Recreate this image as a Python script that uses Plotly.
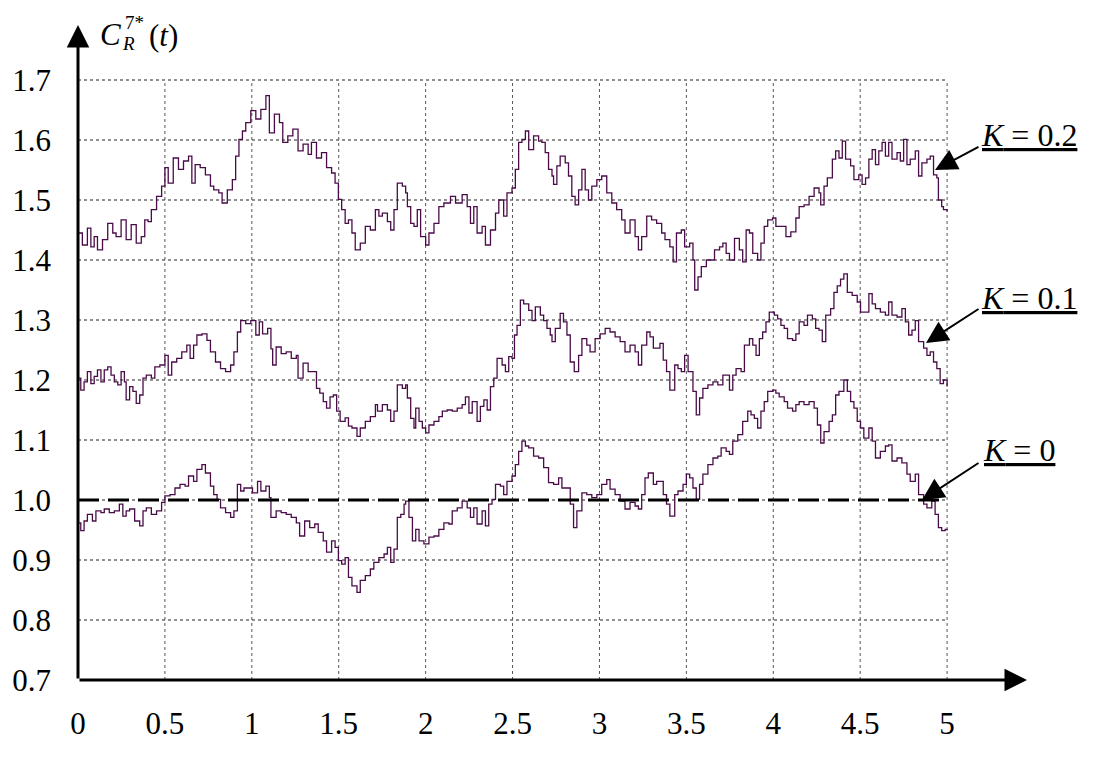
import plotly.graph_objects as go

# ---------------- data (t in units of 10^4) ----------------
# K = 0.2
t_k02 = [0.000, 0.025, 0.054, 0.074, 0.093, 0.112, 0.141, 0.171, 0.200, 0.219, 0.248, 0.277, 0.306, 0.335,
         0.364, 0.384, 0.403, 0.422, 0.452, 0.481, 0.500, 0.519, 0.548, 0.578, 0.607, 0.636, 0.655, 0.674,
         0.703, 0.733, 0.762, 0.781, 0.810, 0.829, 0.859, 0.888, 0.907, 0.926, 0.946, 0.965, 0.994, 1.023,
         1.052, 1.081, 1.101, 1.130, 1.159, 1.178, 1.207, 1.236, 1.266, 1.295, 1.324, 1.343, 1.372, 1.401,
         1.430, 1.459, 1.479, 1.498, 1.517, 1.537, 1.556, 1.576, 1.595, 1.624, 1.653, 1.682, 1.711, 1.731,
         1.751, 1.780, 1.799, 1.818, 1.837, 1.866, 1.885, 1.895, 1.914, 1.933, 1.952, 1.971, 2.000, 2.019,
         2.048, 2.076, 2.105, 2.143, 2.172, 2.210, 2.239, 2.258, 2.277, 2.296, 2.325, 2.344, 2.373, 2.402,
         2.421, 2.449, 2.468, 2.497, 2.516, 2.535, 2.554, 2.574, 2.593, 2.621, 2.650, 2.669, 2.688, 2.707,
         2.727, 2.736, 2.755, 2.774, 2.803, 2.822, 2.841, 2.860, 2.880, 2.899, 2.918, 2.937, 2.956, 2.985,
         3.013, 3.042, 3.071, 3.099, 3.128, 3.147, 3.176, 3.205, 3.224, 3.243, 3.272, 3.300, 3.329, 3.358,
         3.377, 3.405, 3.424, 3.443, 3.471, 3.490, 3.519, 3.538, 3.548, 3.567, 3.586, 3.615, 3.643, 3.662,
         3.691, 3.710, 3.729, 3.748, 3.777, 3.805, 3.824, 3.844, 3.863, 3.882, 3.910, 3.929, 3.948, 3.968,
         3.996, 4.015, 4.044, 4.073, 4.101, 4.130, 4.149, 4.177, 4.206, 4.235, 4.263, 4.273, 4.292, 4.311,
         4.340, 4.359, 4.378, 4.397, 4.416, 4.445, 4.464, 4.492, 4.511, 4.531, 4.550, 4.569, 4.588, 4.607,
         4.626, 4.645, 4.664, 4.683, 4.712, 4.731, 4.750, 4.769, 4.788, 4.817, 4.836, 4.855, 4.884, 4.903,
         4.922, 4.941, 4.950, 4.969, 4.979, 5.000]
c_k02 = [1.445, 1.425, 1.453, 1.422, 1.439, 1.417, 1.434, 1.461, 1.445, 1.439, 1.467, 1.434, 1.459, 1.428,
         1.439, 1.467, 1.464, 1.484, 1.506, 1.523, 1.554, 1.528, 1.570, 1.551, 1.565, 1.573, 1.528, 1.559,
         1.554, 1.542, 1.523, 1.517, 1.512, 1.495, 1.517, 1.534, 1.573, 1.601, 1.615, 1.629, 1.649, 1.635,
         1.651, 1.674, 1.612, 1.643, 1.629, 1.596, 1.607, 1.618, 1.582, 1.593, 1.576, 1.596, 1.570, 1.579,
         1.554, 1.545, 1.528, 1.501, 1.484, 1.461, 1.467, 1.445, 1.417, 1.428, 1.456, 1.450, 1.484, 1.473,
         1.478, 1.464, 1.450, 1.484, 1.528, 1.523, 1.512, 1.489, 1.461, 1.456, 1.484, 1.439, 1.425, 1.445,
         1.461, 1.489, 1.495, 1.506, 1.495, 1.509, 1.489, 1.461, 1.489, 1.445, 1.456, 1.425, 1.450, 1.478,
         1.500, 1.473, 1.512, 1.520, 1.551, 1.596, 1.601, 1.615, 1.584, 1.607, 1.598, 1.596, 1.579, 1.551,
         1.540, 1.526, 1.557, 1.573, 1.562, 1.540, 1.506, 1.492, 1.517, 1.551, 1.517, 1.500, 1.523, 1.534,
         1.540, 1.512, 1.495, 1.484, 1.467, 1.445, 1.467, 1.439, 1.417, 1.439, 1.473, 1.467, 1.461, 1.445,
         1.434, 1.422, 1.397, 1.445, 1.450, 1.422, 1.428, 1.400, 1.350, 1.372, 1.389, 1.400, 1.400, 1.417,
         1.422, 1.428, 1.411, 1.400, 1.436, 1.417, 1.397, 1.450, 1.445, 1.411, 1.400, 1.428, 1.456, 1.467,
         1.470, 1.456, 1.456, 1.439, 1.447, 1.470, 1.489, 1.492, 1.506, 1.520, 1.512, 1.492, 1.523, 1.537,
         1.568, 1.582, 1.570, 1.598, 1.568, 1.557, 1.534, 1.542, 1.526, 1.537, 1.568, 1.584, 1.559, 1.582,
         1.596, 1.573, 1.596, 1.568, 1.579, 1.565, 1.601, 1.559, 1.568, 1.582, 1.540, 1.562, 1.568, 1.573,
         1.542, 1.537, 1.500, 1.489, 1.484, 1.481]

# K = 0.1
t_k01 = [0.000, 0.016, 0.035, 0.054, 0.074, 0.093, 0.112, 0.132, 0.151, 0.171, 0.190, 0.209, 0.229, 0.248,
         0.267, 0.277, 0.297, 0.316, 0.335, 0.355, 0.374, 0.393, 0.422, 0.442, 0.471, 0.500, 0.519, 0.539,
         0.568, 0.597, 0.626, 0.645, 0.665, 0.684, 0.713, 0.742, 0.762, 0.791, 0.820, 0.849, 0.878, 0.897,
         0.917, 0.936, 0.965, 0.994, 1.023, 1.043, 1.062, 1.091, 1.110, 1.120, 1.140, 1.169, 1.198, 1.227,
         1.256, 1.266, 1.295, 1.324, 1.353, 1.372, 1.391, 1.411, 1.430, 1.450, 1.469, 1.488, 1.508, 1.537,
         1.556, 1.576, 1.605, 1.624, 1.653, 1.682, 1.711, 1.723, 1.751, 1.780, 1.799, 1.818, 1.837, 1.866,
         1.885, 1.895, 1.914, 1.933, 1.943, 1.962, 1.981, 2.000, 2.019, 2.048, 2.076, 2.096, 2.124, 2.153,
         2.182, 2.210, 2.229, 2.249, 2.268, 2.296, 2.315, 2.335, 2.354, 2.373, 2.392, 2.411, 2.440, 2.459,
         2.478, 2.497, 2.511, 2.526, 2.545, 2.564, 2.593, 2.612, 2.631, 2.660, 2.679, 2.698, 2.717, 2.727,
         2.746, 2.774, 2.793, 2.813, 2.832, 2.855, 2.880, 2.899, 2.927, 2.946, 2.975, 3.004, 3.033, 3.061,
         3.090, 3.119, 3.147, 3.176, 3.205, 3.224, 3.243, 3.272, 3.291, 3.310, 3.348, 3.367, 3.386, 3.405,
         3.433, 3.452, 3.471, 3.490, 3.510, 3.538, 3.557, 3.576, 3.595, 3.624, 3.653, 3.681, 3.710, 3.748,
         3.767, 3.786, 3.815, 3.834, 3.863, 3.882, 3.901, 3.920, 3.939, 3.958, 3.977, 4.006, 4.025, 4.044,
         4.063, 4.082, 4.111, 4.130, 4.149, 4.177, 4.197, 4.225, 4.244, 4.263, 4.282, 4.302, 4.330, 4.349,
         4.368, 4.387, 4.406, 4.426, 4.454, 4.483, 4.502, 4.521, 4.550, 4.569, 4.588, 4.616, 4.645, 4.664,
         4.683, 4.712, 4.740, 4.760, 4.779, 4.798, 4.817, 4.836, 4.865, 4.884, 4.903, 4.922, 4.941, 4.960,
         4.979, 5.000]
c_k01 = [1.203, 1.183, 1.197, 1.214, 1.194, 1.206, 1.217, 1.197, 1.217, 1.222, 1.208, 1.197, 1.192, 1.214,
         1.197, 1.167, 1.189, 1.181, 1.161, 1.175, 1.203, 1.208, 1.203, 1.222, 1.225, 1.241, 1.208, 1.230,
         1.236, 1.247, 1.258, 1.236, 1.258, 1.275, 1.277, 1.266, 1.247, 1.230, 1.219, 1.214, 1.225, 1.247,
         1.280, 1.299, 1.294, 1.299, 1.275, 1.297, 1.277, 1.286, 1.252, 1.225, 1.255, 1.244, 1.247, 1.236,
         1.241, 1.203, 1.228, 1.214, 1.214, 1.186, 1.178, 1.164, 1.153, 1.172, 1.175, 1.148, 1.131, 1.137,
         1.123, 1.120, 1.106, 1.120, 1.131, 1.139, 1.159, 1.148, 1.159, 1.150, 1.131, 1.148, 1.192, 1.186,
         1.192, 1.170, 1.136, 1.120, 1.153, 1.131, 1.120, 1.112, 1.125, 1.131, 1.139, 1.148, 1.150, 1.148,
         1.153, 1.159, 1.172, 1.145, 1.164, 1.131, 1.156, 1.167, 1.150, 1.189, 1.203, 1.236, 1.225, 1.214,
         1.239, 1.236, 1.275, 1.291, 1.333, 1.327, 1.316, 1.299, 1.322, 1.308, 1.299, 1.286, 1.275, 1.264,
         1.286, 1.311, 1.297, 1.275, 1.230, 1.214, 1.241, 1.269, 1.258, 1.247, 1.269, 1.277, 1.286, 1.280,
         1.272, 1.264, 1.247, 1.258, 1.247, 1.225, 1.258, 1.280, 1.272, 1.253, 1.261, 1.233, 1.214, 1.183,
         1.225, 1.219, 1.214, 1.241, 1.214, 1.181, 1.142, 1.170, 1.186, 1.192, 1.197, 1.192, 1.208, 1.183,
         1.208, 1.219, 1.214, 1.258, 1.269, 1.258, 1.241, 1.269, 1.280, 1.297, 1.313, 1.308, 1.302, 1.291,
         1.286, 1.269, 1.266, 1.277, 1.297, 1.291, 1.308, 1.302, 1.286, 1.283, 1.264, 1.308, 1.319, 1.346,
         1.357, 1.368, 1.377, 1.346, 1.341, 1.330, 1.313, 1.313, 1.344, 1.327, 1.319, 1.313, 1.308, 1.330,
         1.308, 1.305, 1.319, 1.297, 1.275, 1.283, 1.299, 1.264, 1.253, 1.241, 1.247, 1.230, 1.219, 1.194,
         1.200, 1.189]

# K = 0
t_k0 = [0.000, 0.016, 0.035, 0.054, 0.083, 0.103, 0.132, 0.151, 0.180, 0.209, 0.238, 0.258, 0.277, 0.297,
        0.326, 0.355, 0.374, 0.393, 0.422, 0.452, 0.481, 0.500, 0.529, 0.558, 0.587, 0.616, 0.636, 0.665,
        0.684, 0.713, 0.733, 0.762, 0.781, 0.800, 0.820, 0.849, 0.878, 0.897, 0.917, 0.936, 0.955, 0.984,
        1.004, 1.033, 1.052, 1.081, 1.101, 1.110, 1.140, 1.169, 1.198, 1.227, 1.256, 1.275, 1.304, 1.333,
        1.362, 1.382, 1.411, 1.430, 1.459, 1.479, 1.498, 1.517, 1.537, 1.556, 1.576, 1.605, 1.624, 1.653,
        1.682, 1.702, 1.731, 1.761, 1.780, 1.799, 1.818, 1.837, 1.857, 1.876, 1.885, 1.904, 1.924, 1.943,
        1.962, 1.990, 2.019, 2.048, 2.076, 2.105, 2.134, 2.153, 2.182, 2.210, 2.239, 2.258, 2.277, 2.296,
        2.325, 2.344, 2.363, 2.382, 2.402, 2.430, 2.449, 2.468, 2.497, 2.516, 2.535, 2.554, 2.574, 2.593,
        2.621, 2.650, 2.679, 2.707, 2.736, 2.765, 2.784, 2.813, 2.832, 2.851, 2.870, 2.899, 2.927, 2.956,
        2.985, 3.013, 3.042, 3.061, 3.090, 3.119, 3.147, 3.176, 3.205, 3.224, 3.243, 3.262, 3.281, 3.310,
        3.329, 3.348, 3.367, 3.386, 3.405, 3.433, 3.452, 3.481, 3.500, 3.519, 3.538, 3.557, 3.576, 3.595,
        3.624, 3.653, 3.681, 3.700, 3.729, 3.748, 3.767, 3.796, 3.824, 3.853, 3.872, 3.891, 3.910, 3.929,
        3.948, 3.968, 3.996, 4.015, 4.034, 4.063, 4.082, 4.111, 4.130, 4.149, 4.177, 4.206, 4.235, 4.254,
        4.273, 4.292, 4.321, 4.340, 4.359, 4.378, 4.406, 4.426, 4.445, 4.464, 4.483, 4.502, 4.521, 4.550,
        4.569, 4.588, 4.616, 4.645, 4.664, 4.683, 4.712, 4.740, 4.769, 4.788, 4.817, 4.836, 4.865, 4.884,
        4.912, 4.931, 4.950, 4.969, 4.989, 5.000]
c_k0 = [0.962, 0.949, 0.965, 0.976, 0.965, 0.982, 0.979, 0.985, 0.979, 0.982, 0.993, 0.973, 0.982, 0.985,
        0.965, 0.957, 0.982, 0.987, 0.976, 0.982, 0.996, 1.007, 1.009, 1.020, 1.026, 1.023, 1.040, 1.031,
        1.051, 1.059, 1.045, 1.023, 1.009, 1.001, 0.987, 0.979, 0.971, 0.982, 1.026, 1.015, 1.020, 1.020,
        1.012, 1.031, 1.015, 1.023, 1.004, 0.971, 0.982, 0.979, 0.976, 0.971, 0.962, 0.940, 0.965, 0.954,
        0.960, 0.946, 0.932, 0.913, 0.932, 0.921, 0.899, 0.893, 0.904, 0.871, 0.857, 0.846, 0.866, 0.874,
        0.885, 0.896, 0.904, 0.910, 0.921, 0.896, 0.918, 0.971, 0.976, 0.993, 0.998, 0.971, 0.932, 0.951,
        0.932, 0.927, 0.938, 0.940, 0.951, 0.962, 0.960, 0.982, 0.987, 0.998, 0.987, 0.971, 0.987, 0.960,
        0.982, 0.957, 0.993, 1.001, 1.026, 1.023, 1.009, 1.031, 1.040, 1.059, 1.081, 1.098, 1.090, 1.087,
        1.073, 1.070, 1.054, 1.029, 1.026, 1.037, 1.020, 1.020, 0.993, 0.954, 0.982, 1.012, 1.009, 1.004,
        1.009, 1.026, 1.034, 1.018, 1.009, 0.998, 0.985, 0.996, 0.990, 0.985, 1.009, 1.037, 1.045, 1.026,
        1.031, 1.031, 1.009, 0.993, 0.973, 1.009, 1.015, 1.026, 1.043, 1.037, 1.020, 1.001, 1.026, 1.043,
        1.059, 1.070, 1.073, 1.087, 1.081, 1.076, 1.098, 1.109, 1.131, 1.148, 1.142, 1.136, 1.120, 1.148,
        1.164, 1.181, 1.183, 1.178, 1.172, 1.164, 1.153, 1.148, 1.159, 1.164, 1.159, 1.164, 1.153, 1.125,
        1.095, 1.114, 1.131, 1.142, 1.175, 1.181, 1.200, 1.181, 1.164, 1.153, 1.131, 1.120, 1.103, 1.120,
        1.098, 1.070, 1.081, 1.090, 1.092, 1.065, 1.070, 1.062, 1.043, 1.031, 1.043, 1.009, 0.993, 0.987,
        0.998, 0.976, 0.954, 0.949, 0.951, 0.949]

series_names = ["K = 0.2", "K = 0.1", "K = 0"]
reference_level = 1.0
x_ticks = [0, 0.5, 1, 1.5, 2, 2.5, 3, 3.5, 4, 4.5, 5]
x_tick_labels = ["0", "0.5", "1", "1.5", "2", "2.5", "3", "3.5", "4", "4.5", "5"]
y_ticks = [0.7, 0.8, 0.9, 1.0, 1.1, 1.2, 1.3, 1.4, 1.5, 1.6, 1.7]
y_tick_labels = ["0.7", "0.8", "0.9", "1.0", "1.1", "1.2", "1.3", "1.4", "1.5", "1.6", "1.7"]

# ---------------- layout geometry ----------------
W, H = 1116, 778
OFF = 8                      # page body margin
ML, MR, MT, MB = 70, 90, 12, 106
X_RANGE = [0, 5.5]
Y_RANGE = [0.7, 1.8]
FONT = "Liberation Serif, Times New Roman, serif"
LINE_COLOR = "#4a0c48"


def px_x(px):
    return X_RANGE[0] + (px - OFF - ML) / (W - ML - MR) * (X_RANGE[1] - X_RANGE[0])


def px_y(py):
    return Y_RANGE[0] + (H - MB - (py - OFF)) / (H - MT - MB) * (Y_RANGE[1] - Y_RANGE[0])


fig = go.Figure()

shapes = []
for yv in y_ticks[1:]:
    shapes.append(dict(type="line", xref="x", yref="y", x0=x_ticks[0], x1=x_ticks[-1], y0=yv, y1=yv,
                       line=dict(color="#222222", width=1, dash="3px,3px"), layer="below"))
for xv in x_ticks[1:]:
    shapes.append(dict(type="line", xref="x", yref="y", x0=xv, x1=xv, y0=y_ticks[0], y1=y_ticks[-1],
                       line=dict(color="#555555", width=1, dash="3px,3px"), layer="below"))

for t, c, name in zip([t_k02, t_k01, t_k0], [c_k02, c_k01, c_k0], series_names):
    fig.add_trace(go.Scatter(x=t, y=c, mode="lines", name=name,
                             line=dict(color=LINE_COLOR, width=1.3, shape="hv"),
                             showlegend=False, hoverinfo="skip"))

fig.add_trace(go.Scatter(x=[x_ticks[0], x_ticks[-1]], y=[reference_level, reference_level], mode="lines",
                         line=dict(color="black", width=3, dash="21px,9px"),
                         showlegend=False, hoverinfo="skip"))

annotations = []
annotations.append(dict(x=0, y=px_y(25), ax=0, ay=Y_RANGE[0], xref="x", yref="y", axref="x", ayref="y",
                        text="", showarrow=True, arrowhead=2, arrowsize=1.5, arrowwidth=3, arrowcolor="black"))
annotations.append(dict(x=px_x(1027), y=Y_RANGE[0], ax=0, ay=Y_RANGE[0], xref="x", yref="y", axref="x", ayref="y",
                        text="", showarrow=True, arrowhead=2, arrowsize=1.5, arrowwidth=3, arrowcolor="black"))

annotations.append(dict(x=px_x(110), y=px_y(34), xref="x", yref="y", text="<i>C</i>", showarrow=False,
                        font=dict(size=31, family=FONT, color="black")))
annotations.append(dict(x=px_x(134), y=px_y(22), xref="x", yref="y", text="7*", showarrow=False,
                        font=dict(size=19, family=FONT, color="black")))
annotations.append(dict(x=px_x(128), y=px_y(43), xref="x", yref="y", text="<i>R</i>", showarrow=False,
                        font=dict(size=19, family=FONT, color="black")))
annotations.append(dict(x=px_x(163), y=px_y(35), xref="x", yref="y", text="(<i>t</i>)", showarrow=False,
                        font=dict(size=31, family=FONT, color="black")))
annotations.append(dict(x=px_x(1036), y=px_y(662), xref="x", yref="y", xanchor="left",
                        text="<i>t</i> ×10<sup>4</sup>", showarrow=False,
                        font=dict(size=30, family=FONT, color="black")))

label_pos = [(979, 135), (979, 298), (981, 450)]
tips = [(935, 170), (926, 343), (922, 500)]
tails = [(980, 146), (980, 308), (980, 462)]
for name, (lx, ly), (tx, ty), (sx, sy) in zip(series_names, label_pos, tips, tails):
    k, rest = name.split(" ", 1)
    annotations.append(dict(x=px_x(lx), y=px_y(ly), xref="x", yref="y", xanchor="left",
                            text=f"<u><i>{k}</i> {rest}</u>", showarrow=False,
                            font=dict(size=32, family=FONT, color="black")))
    annotations.append(dict(x=px_x(tx), y=px_y(ty), ax=px_x(sx), ay=px_y(sy), xref="x", yref="y",
                            axref="x", ayref="y", text="", showarrow=True, arrowhead=2, arrowsize=2.2,
                            arrowwidth=2, arrowcolor="black"))

fig.update_layout(
    width=W, height=H,
    margin=dict(l=ML, r=MR, t=MT, b=MB, autoexpand=False),
    paper_bgcolor="white", plot_bgcolor="white",
    font=dict(family=FONT, size=31, color="black"),
    shapes=shapes, annotations=annotations,
    xaxis=dict(range=X_RANGE, tickvals=x_ticks, ticktext=x_tick_labels, showgrid=False, zeroline=False,
               showline=False, ticks="", ticklabelstandoff=22, automargin=False,
               tickfont=dict(size=31, family=FONT)),
    yaxis=dict(range=Y_RANGE, tickvals=y_ticks, ticktext=y_tick_labels, showgrid=False, zeroline=False,
               showline=False, ticks="", ticklabelstandoff=26, automargin=False,
               tickfont=dict(size=31, family=FONT)),
)

fig.write_html("out.html")
